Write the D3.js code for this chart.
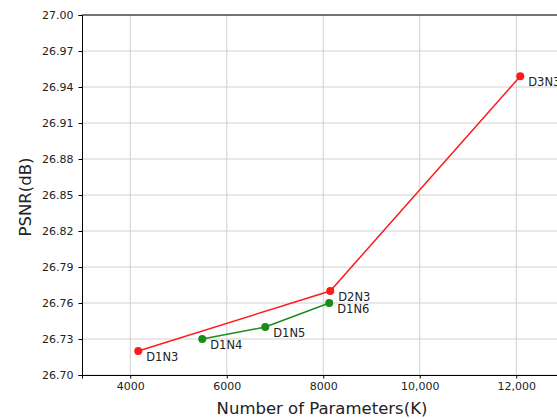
<!DOCTYPE html>
<html><head><meta charset="utf-8">
<script src="https://cdn.jsdelivr.net/npm/d3@7"></script>
<style>body{margin:0;background:#fff;}svg{display:block;font-family:"DejaVu Sans",sans-serif;}</style>
</head><body><svg id="c" width="557" height="419"></svg>
<script>
const redLabels = ["D1N3", "D2N3", "D3N3"];
const redParams = [4166, 8145, 12083];
const redPSNR = [26.72, 26.77, 26.949];
const greenLabels = ["D1N4", "D1N5", "D1N6"];
const greenParams = [5492, 6798, 8124];
const greenPSNR = [26.73, 26.74, 26.76];
const xTicks = [4000, 6000, 8000, 10000, 12000];
const xTickLabels = ["4000", "6000", "8000", "10,000", "12,000"];
const yTicks = [26.70, 26.73, 26.76, 26.79, 26.82, 26.85, 26.88, 26.91, 26.94, 26.97, 27.00];

const svg = d3.select("#c");
const L = 82, T = 15, B = 375;
const x = d3.scaleLinear().domain([3000, 13000]).range([L, L + 482.5]);
const y = d3.scaleLinear().domain([26.70, 27.00]).range([B, T]);

// grid
svg.append("g").selectAll("line").data(xTicks).join("line")
  .attr("x1", d => x(d)).attr("x2", d => x(d)).attr("y1", T).attr("y2", B)
  .attr("stroke", "#d0d0d0").attr("stroke-width", 1);
svg.append("g").selectAll("line").data(yTicks).join("line")
  .attr("x1", L).attr("x2", x(13000)).attr("y1", d => y(d)).attr("y2", d => y(d))
  .attr("stroke", "#d0d0d0").attr("stroke-width", 1);

// axes
const xAxis = d3.axisBottom(x).tickValues(xTicks).tickFormat((d, i) => xTickLabels[i]).tickSizeOuter(0).tickSize(3.5).tickPadding(3.5);
const gx = svg.append("g").attr("transform", `translate(0,${B})`).call(xAxis);
const yAxis = d3.axisLeft(y).tickValues(yTicks).tickFormat(d3.format(".2f")).tickSizeOuter(0).tickSize(3.5).tickPadding(5);
const gy = svg.append("g").attr("transform", `translate(${L},0)`).call(yAxis);
[gx, gy].forEach(g => {
  g.selectAll("text").attr("font-size", 11).attr("fill", "#222").attr("font-family", "DejaVu Sans");
  g.selectAll("line").attr("stroke", "#000");
  g.select(".domain").attr("stroke", "#000").attr("stroke-width", 1);
});
// top spine
svg.append("line").attr("x1", L).attr("x2", x(13000)).attr("y1", T).attr("y2", T).attr("stroke", "#000");

// axis labels
svg.append("text").attr("x", 322).attr("y", 414).attr("text-anchor", "middle")
  .attr("font-size", 16.5).attr("fill", "#222").text("Number of Parameters(K)");
svg.append("text").attr("transform", `translate(31,${197}) rotate(-90)`).attr("text-anchor", "middle")
  .attr("font-size", 16.5).attr("fill", "#222").text("PSNR(dB)");

function series(params, vals, labels, color) {
  const data = params.map((p, i) => ({p, v: vals[i], l: labels[i]}));
  svg.append("path").datum(data)
    .attr("d", d3.line().x(d => x(d.p)).y(d => y(d.v)))
    .attr("fill", "none").attr("stroke", color).attr("stroke-width", 1.5);
  svg.append("g").selectAll("circle").data(data).join("circle")
    .attr("cx", d => x(d.p)).attr("cy", d => y(d.v)).attr("r", 4).attr("fill", color);
  svg.append("g").selectAll("text").data(data).join("text")
    .attr("x", d => x(d.p) + 8).attr("y", d => y(d.v) + 10)
    .attr("font-size", 11.5).attr("fill", "#222").text(d => d.l);
}
series(redParams, redPSNR, redLabels, "#ff1a1a");
series(greenParams, greenPSNR, greenLabels, "#1a8c1a");
</script></body></html>
